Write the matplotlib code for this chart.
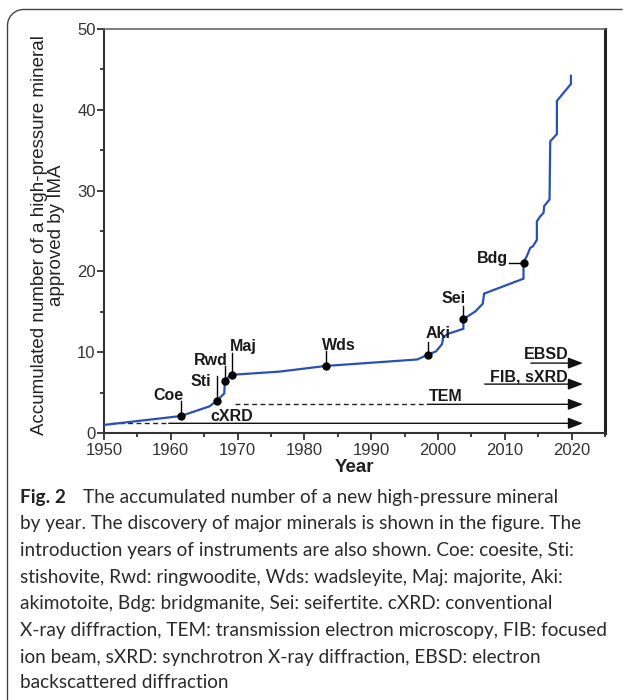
import numpy as np
import matplotlib.pyplot as plt
from matplotlib.ticker import MultipleLocator
from matplotlib.lines import Line2D

plt.rcParams['font.family'] = ['Liberation Sans', 'DejaVu Sans']

# accumulated number of high-pressure minerals
years = [1950, 1961.5, 1965.8, 1966.9, 1968.0, 1968.1, 1968.7, 1969.1, 1976.3,
         1983.2, 1996.9, 1998.5, 1999.7, 2000.6, 2000.8, 2001.6, 2003.8, 2003.8,
         2005.6, 2006.7, 2006.9, 2012.8, 2012.8, 2013.3, 2013.8, 2014.2, 2014.8,
         2014.8, 2015.3, 2015.8, 2015.9, 2016.7, 2016.8, 2017.8, 2017.8, 2019.9,
         2019.9]
counts = [1.0, 2.1, 3.3, 4.0, 4.9, 6.4, 7.0, 7.2, 7.6,
          8.3, 9.1, 9.7, 10.1, 11.0, 11.9, 12.3, 12.9, 14.1,
          15.05, 16.0, 17.25, 19.1, 21.05, 21.9, 22.9, 23.1, 23.9,
          26.2, 26.8, 27.25, 28.1, 28.9, 36.1, 37.0, 41.1, 43.2,
          44.2]

# major mineral discoveries
minerals = ['Coe', 'Sti', 'Rwd', 'Maj', 'Wds', 'Aki', 'Sei', 'Bdg']
mineral_years = [1961.5, 1966.9, 1968.1, 1969.1, 1983.2, 1998.5, 2003.8, 2012.8]
mineral_counts = [2.1, 4.0, 6.4, 7.2, 8.3, 9.7, 14.1, 21.05]

# instruments: name, first year (dashed until solid_from)
instruments = ['cXRD', 'TEM', 'FIB, sXRD', 'EBSD']
inst_dashed_from = [1951.1, 1969.6, None, None]
inst_solid_from = [1959.7, 1998.4, 2007.0, 2013.9]

caption = [
    "by year. The discovery of major minerals is shown in the figure. The",
    "introduction years of instruments are also shown. Coe: coesite, Sti:",
    "stishovite, Rwd: ringwoodite, Wds: wadsleyite, Maj: majorite, Aki:",
    "akimotoite, Bdg: bridgmanite, Sei: seifertite. cXRD: conventional",
    "X-ray diffraction, TEM: transmission electron microscopy, FIB: focused",
    "ion beam, sXRD: synchrotron X-ray diffraction, EBSD: electron",
    "backscattered diffraction",
]

W, H = 626, 700
fig = plt.figure(figsize=(W / 100, H / 100), dpi=100)
ax = fig.add_axes([104 / W, 1 - 433 / H, (605 - 104) / W, (433 - 29) / H])

ax.plot(years, counts, color='#2B50B4', lw=1.6, solid_joinstyle='miter', zorder=3)

# mineral labels: (line top, label x, label baseline, ha) ; Bdg uses horizontal tie
lab = {
    'Coe': (3.9, 1961.9, 4.1, 'right'),
    'Sti': (7.0, 1966.0, 5.85, 'right'),
    'Rwd': (8.25, 1968.5, 8.45, 'right'),
    'Maj': (9.9, 1968.8, 10.2, 'left'),
    'Wds': (10.1, 1982.6, 10.3, 'left'),
    'Aki': (11.3, 1998.1, 11.75, 'left'),
    'Sei': (15.7, 2004.2, 16.1, 'right'),
}
bold = dict(fontsize=11.5, fontweight='bold', color='#1a1a1a')
for name, mx, my in zip(minerals, mineral_years, mineral_counts):
    ax.plot(mx, my, 'o', color='black', ms=5, zorder=5)
    if name == 'Bdg':
        ax.plot([2010.6, mx], [my, my], color='black', lw=1, zorder=4)
        ax.text(2010.5, 21.1, name, ha='right', va='baseline', **bold)
    else:
        top, tx, ty, ha = lab[name]
        ax.plot([mx, mx], [my, top], color='black', lw=1, zorder=4)
        ax.text(tx, ty, name, ha=ha, va='baseline', **bold)

# instrument arrows
arrow_y = [1.2, 3.55, 6.05, 8.65]
text_pos = [(1969.1, 1.45, 'center'), (1998.7, 3.95, 'left'),
            (2007.85, 6.4, 'left'), (2012.9, 9.1, 'left')]
for name, d0, s0, y, (tx, ty, ha) in zip(instruments, inst_dashed_from,
                                          inst_solid_from, arrow_y, text_pos):
    if d0 is not None:
        ax.plot([d0, s0], [y, y], color='#222', lw=1, ls=(0, (3.5, 2.5)))
    ax.annotate('', xy=(2021.7, y), xytext=(s0, y),
                arrowprops=dict(arrowstyle='-|>,head_length=0.45,head_width=0.17',
                                color='#111', lw=1, mutation_scale=20,
                                shrinkA=0, shrinkB=0))
    ax.text(tx, ty, name, ha=ha, va='baseline', **bold)

ax.set_xlim(1950, 2025)
ax.set_ylim(0, 50)
ax.set_xticks(range(1950, 2021, 10))
ax.set_yticks(range(0, 51, 10))
ax.xaxis.set_minor_locator(MultipleLocator(5))
ax.yaxis.set_minor_locator(MultipleLocator(5))
ax.tick_params(which='major', length=5, width=1.3, color='#333',
               labelsize=12, labelcolor='#333', pad=2)
ax.tick_params(which='minor', length=3, width=1.3, color='#333')
ax.tick_params(axis='y', pad=1)

for s in ['left', 'bottom']:
    ax.spines[s].set_color('#333')
    ax.spines[s].set_linewidth(1.5)
ax.spines['top'].set_color('#666')
ax.spines['top'].set_linewidth(1.2)
ax.spines['right'].set_color('#222')
ax.spines['right'].set_linewidth(2.2)

ax.set_xlabel('Year', fontsize=13.5, fontweight='bold', color='#222', labelpad=1)
fig.text(48 / W, 1 - 235 / H,
         'Accumulated number of a high-pressure mineral\napproved by IMA',
         rotation=90, ha='center', va='center', multialignment='center',
         fontsize=13.5, color='#222', linespacing=1.0)

# frame of the figure panel
r = 16
t = np.linspace(0, np.pi / 2, 30)
fx = np.concatenate([[7.5], 7.5 + r - r * np.cos(t), [622]])
fy = np.concatenate([[700], 9.5 + r - r * np.sin(t), [9.5]])
fig.add_artist(Line2D(fx / W, 1 - fy / H, transform=fig.transFigure,
                      color='#444', lw=1))

# caption, sized so the longest line spans the same width as in the figure
cap_font = ['Lato', 'DejaVu Sans']
renderer = fig.canvas.get_renderer()
probe = fig.text(0, 0, caption[4], family=cap_font, fontsize=12)
wpx = probe.get_window_extent(renderer).width
probe.remove()
cs = 12 * 585 / wpx
baselines = [503, 529.5, 556, 583, 609.5, 636, 663, 688]
fig.text(20 / W, 1 - baselines[0] / H, 'Fig. 2', family=cap_font, fontsize=cs,
         fontweight='bold', color='#222', va='baseline')
fig.text(83 / W, 1 - baselines[0] / H,
         'The accumulated number of a new high-pressure mineral',
         family=cap_font, fontsize=cs, color='#2a2a2a', va='baseline')
for line, b in zip(caption, baselines[1:]):
    fig.text(20 / W, 1 - b / H, line, family=cap_font, fontsize=cs,
             color='#2a2a2a', va='baseline')

fig.savefig('out.png', dpi=100)
